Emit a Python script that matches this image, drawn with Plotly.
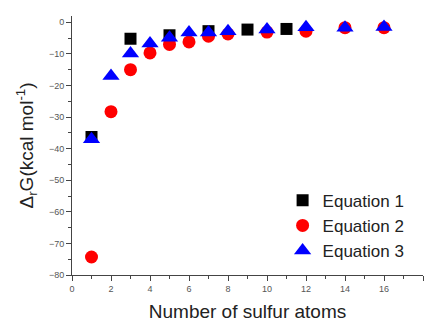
import plotly.graph_objects as go

eq1_x = [1, 3, 5, 7, 9, 11]
eq1_y = [-36.3, -5.2, -4.1, -2.8, -2.3, -2.1]

eq2_x = [1, 2, 3, 4, 5, 6, 7, 8, 10, 12, 14, 16]
eq2_y = [-74.3, -28.3, -15.0, -9.7, -7.0, -6.2, -4.4, -3.7, -3.1, -2.8, -1.7, -1.7]

eq3_x = [1, 2, 3, 4, 5, 6, 7, 8, 10, 12, 14, 16]
eq3_y = [-37.0, -17.0, -9.9, -6.7, -4.9, -3.2, -3.2, -2.8, -2.3, -1.6, -1.7, -1.5]

font = "Liberation Sans, Arial, sans-serif"

fig = go.Figure()
fig.add_trace(go.Scatter(x=eq1_x, y=eq1_y, mode="markers", name="Equation 1",
                         marker=dict(symbol="square", size=12, color="black")))
fig.add_trace(go.Scatter(x=eq2_x, y=eq2_y, mode="markers", name="Equation 2",
                         marker=dict(symbol="circle", size=13, color="#ff0000")))
fig.add_trace(go.Scatter(x=eq3_x, y=eq3_y, mode="markers", name="Equation 3",
                         marker=dict(symbol="triangle-up", size=15, color="#0000ff")))

fig.update_layout(
    width=428, height=323,
    margin=dict(l=72, r=5, t=16, b=48, autoexpand=False),
    paper_bgcolor="white", plot_bgcolor="white",
    font=dict(family=font, color="#222"),
    showlegend=True,
    legend=dict(x=0.6, xanchor="left", y=0.19, yanchor="middle",
                bgcolor="rgba(0,0,0,0)", font=dict(size=17, color="#222"),
                itemwidth=30, tracegroupgap=0),
)
fig.update_xaxes(
    range=[0, 18], tick0=0, dtick=2, showgrid=False, zeroline=False,
    showline=True, linecolor="#444", linewidth=1, automargin=False,
    ticks="outside", ticklen=5, tickcolor="#444",
    minor=dict(ticks="outside", ticklen=3, dtick=1, tickcolor="#444"),
    tickfont=dict(size=9, color="#555"),
    title=dict(text="Number of sulfur atoms", font=dict(size=19, color="#222"), standoff=11),
)
fig.update_yaxes(
    range=[-80, 2], tick0=0, dtick=10, showgrid=False, zeroline=False,
    showline=True, linecolor="#444", linewidth=1, automargin=False,
    ticks="outside", ticklen=5, tickcolor="#444",
    minor=dict(ticks="outside", ticklen=3, dtick=5, tickcolor="#444"),
    tickfont=dict(size=9, color="#555"),
    title=dict(text="Δ<sub>r</sub>G(kcal mol<sup>-1</sup>)", font=dict(size=19, color="#222"), standoff=10),
)

fig.write_html("out.html", config={"displayModeBar": False},
               post_script="document.body.style.margin='0';document.body.style.overflow='hidden';")
